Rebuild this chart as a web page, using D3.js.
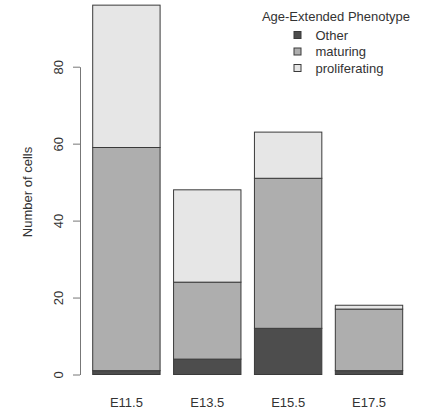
<!DOCTYPE html>
<meta charset="utf-8">
<script src="https://d3js.org/d3.v7.min.js"></script>
<style>
  body { margin: 0; background: #fff; }
  text { font-family: "Liberation Sans", Arial, sans-serif; }
</style>
<div id="chart"></div>
<script>
  // data
  var stages = ["E11.5", "E13.5", "E15.5", "E17.5"];
  var phenotypes = ["Other", "maturing", "proliferating"];
  var other = [1, 4, 12, 1];
  var maturing = [58, 20, 39, 16];
  var proliferating = [37, 24, 12, 1];
  var yTicks = [0, 20, 40, 60, 80];
  var colors = ["#4d4d4d", "#aeaeae", "#e6e6e6"];

  var width = 423, height = 412;

  var svg = d3.select("#chart").append("svg")
    .attr("width", width)
    .attr("height", height);

  var rows = stages.map(function(s, i) {
    return { stage: s, Other: other[i], maturing: maturing[i], proliferating: proliferating[i] };
  });

  var stack = d3.stack().keys(phenotypes)(rows);

  var x = d3.scaleBand()
    .domain(stages)
    .range([92.7, 402.7])
    .paddingInner(1 / 6)
    .paddingOuter(0);

  var y = d3.scaleLinear()
    .domain([0, 80])
    .range([374.5, 66.7]);

  var color = d3.scaleOrdinal().domain(phenotypes).range(colors);

  // bars
  svg.append("g")
    .selectAll("g")
    .data(stack)
    .enter().append("g")
      .attr("fill", function(d) { return color(d.key); })
    .selectAll("rect")
    .data(function(d) { return d; })
    .enter().append("rect")
      .attr("x", function(d) { return x(d.data.stage); })
      .attr("y", function(d) { return y(d[1]); })
      .attr("width", x.bandwidth())
      .attr("height", function(d) { return y(d[0]) - y(d[1]); })
      .attr("stroke", "#3a3a3a")
      .attr("stroke-width", 1);

  // y axis
  var yAxis = svg.append("g")
    .attr("transform", "translate(80,0)")
    .call(d3.axisLeft(y).tickValues(yTicks).tickSize(7).tickSizeOuter(0).tickFormat(d3.format("d")));
  yAxis.select(".domain").attr("stroke", "#777").attr("stroke-width", 1);
  yAxis.selectAll(".tick line").attr("stroke", "#777");
  yAxis.selectAll(".tick text")
    .attr("x", null).attr("dy", null)
    .attr("transform", "translate(-17,0) rotate(-90)")
    .attr("text-anchor", "middle")
    .attr("fill", "#333")
    .style("font-size", "13px");

  // x labels
  svg.append("g")
    .selectAll("text")
    .data(stages)
    .enter().append("text")
      .attr("x", function(d) { return x(d) + x.bandwidth() / 2; })
      .attr("y", 407)
      .attr("text-anchor", "middle")
      .attr("fill", "#333")
      .style("font-size", "13px")
      .text(function(d) { return d; });

  // y title
  svg.append("text")
    .attr("transform", "translate(32,192) rotate(-90)")
    .attr("text-anchor", "middle")
    .attr("fill", "#333")
    .style("font-size", "13px")
    .text("Number of cells");

  // legend
  var legend = svg.append("g");
  legend.append("text")
    .attr("x", 336)
    .attr("y", 21)
    .attr("text-anchor", "middle")
    .attr("fill", "#333")
    .style("font-size", "13px")
    .text("Age-Extended Phenotype");

  var item = legend.selectAll(".item")
    .data(phenotypes)
    .enter().append("g")
      .attr("class", "item")
      .attr("transform", function(d, i) { return "translate(294," + (35 + i * 16.5) + ")"; });
  item.append("rect")
    .attr("x", 0).attr("y", -3.5)
    .attr("width", 7).attr("height", 7)
    .attr("fill", function(d) { return color(d); })
    .attr("stroke", "#3a3a3a");
  item.append("text")
    .attr("x", 21.5)
    .attr("y", 4.7)
    .attr("fill", "#333")
    .style("font-size", "13px")
    .text(function(d) { return d; });
</script>
